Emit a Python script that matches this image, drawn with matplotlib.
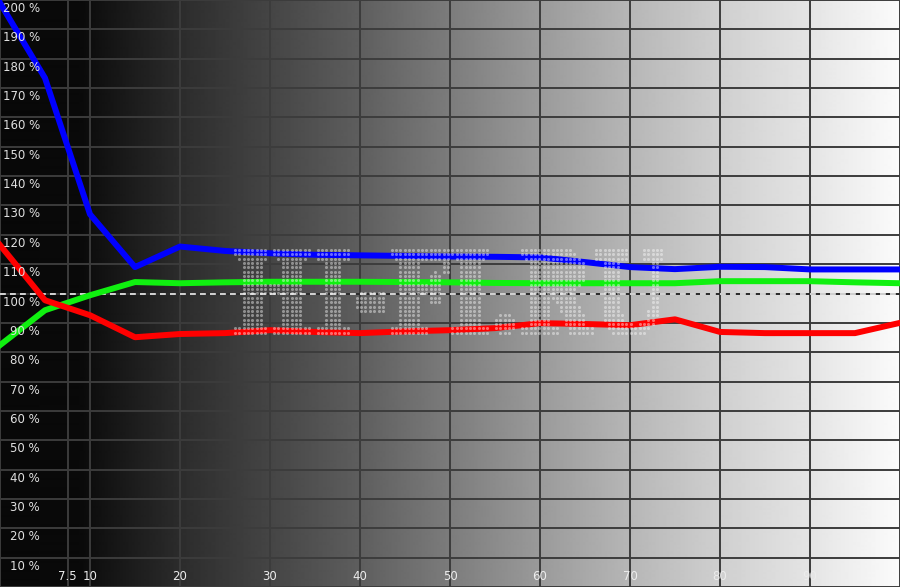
import matplotlib
matplotlib.use("Agg")
import matplotlib.pyplot as plt
import numpy as np
from matplotlib.textpath import TextPath
from matplotlib.font_manager import FontProperties

# -----------------------------------------------------------
# DATA
# -----------------------------------------------------------

stimulus = [0, 5, 10, 15, 20, 25, 30, 35, 40, 45, 50,
            55, 60, 65, 70, 75, 80, 85, 90, 95, 100]

red = [116.5, 97.7, 92.6, 85.1, 86.2, 86.5, 87.5, 86.9, 86.5, 87.1, 87.5,
       88.2, 89.9, 89.6, 89.2, 91.2, 86.9, 86.5, 86.5, 86.5, 90.0]
green = [82.4, 94.3, 99.4, 103.9, 103.5, 103.8, 104.0, 104.0, 104.0, 103.9, 103.8,
         103.6, 103.5, 103.5, 103.5, 103.5, 104.2, 104.2, 104.2, 103.8, 103.5]
blue = [199.0, 173.4, 127.0, 109.0, 116.0, 114.5, 113.7, 113.2, 113.0, 112.8, 112.6,
        112.5, 112.3, 110.7, 109.0, 108.3, 109.1, 109.0, 108.2, 108.2, 108.2]

x_ticks = [7.5, 10, 20, 30, 40, 50, 60, 70, 80, 90]
x_tick_labels = ["7.5", "10", "20", "30", "40", "50", "60", "70", "80", "90"]
y_ticks = [200, 190, 180, 170, 160, 150, 140, 130, 120, 110,
           100, 90, 80, 70, 60, 50, 40, 30, 20, 10]

watermark = "HI-FI.RU"

# background grey level (0-255) along the x axis
bg_pos = [0, 9, 10, 20, 30, 40, 50, 60, 70, 80, 90, 100]
bg_level = [8, 10, 14, 44, 69, 94, 124, 154, 182, 207, 228, 251]

# -----------------------------------------------------------
# FIGURE
# -----------------------------------------------------------

W, H = 900, 587
fig = plt.figure(figsize=(W / 100, H / 100), dpi=100)
ax = fig.add_axes([0, 0, 1, 1])
ax.set_xlim(0, 100)
ax.set_ylim(0, 200)
for s in ax.spines.values():
    s.set_visible(False)
ax.set_xticks([])
ax.set_yticks([])

# gradient background
xs = np.linspace(0, 100, 900)
grad = np.interp(xs, bg_pos, bg_level)[None, :]
ax.imshow(grad, extent=[0, 100, 0, 200], aspect="auto", cmap="gray",
          vmin=0, vmax=255, interpolation="bilinear", zorder=0)

# grid
grid_col = "#3c3c3c"
for v in list(range(0, 201, 10)):
    ax.axhline(v, color=grid_col, lw=1.4, zorder=1)
for v in [0] + x_ticks + [100]:
    ax.axvline(v, color=grid_col, lw=1.4, zorder=1)

# 100 % reference: alternating dark / white dashes
ax.axhline(100, color="#2a2a2a", lw=1.2, zorder=2)
ax.axhline(100, color="#f0f0f0", lw=1.2, dashes=(3.5, 2.5), zorder=2)

# RGB balance curves
ax.plot(stimulus, blue, color="#0000ff", lw=4.3, zorder=3)
ax.plot(stimulus, green, color="#10f010", lw=4.3, zorder=3)
ax.plot(stimulus, red, color="#ff0000", lw=4.3, zorder=3)

# dotted watermark (text outline sampled on a dot grid, slightly fattened)
tp = TextPath((0, 0), watermark, size=100,
              prop=FontProperties(family="DejaVu Serif", weight="bold"))
bb = tp.get_extents()
x0, x1, y0, y1 = 235, 665, 250, 335  # pixel box of the watermark
step = 4.35
px, py = np.meshgrid(np.arange(x0, x1 + 0.1, step), np.arange(y0, y1 + 0.1, step))
px, py = px.ravel(), py.ravel()
inside = np.zeros(px.shape, dtype=bool)
for dx, dy in [(0, 0), (2.2, 0), (-2.2, 0), (0, 2.2), (0, -2.2)]:
    tx = bb.x0 + (px + dx - x0) / (x1 - x0) * bb.width
    ty = bb.y1 - (py + dy - y0) / (y1 - y0) * bb.height
    inside |= tp.contains_points(np.column_stack([tx, ty]))
ax.scatter(px[inside] / 9.0, 200 - py[inside] * 200 / H, s=5.0, color="white",
           alpha=0.42, linewidths=0, zorder=4)

# labels
for v in y_ticks:
    ax.annotate(f"{v} %", xy=(0, v), xytext=(40, -2), textcoords="offset pixels",
                ha="right", va="top", fontsize=8.5, color="#e0e0e0",
                family="DejaVu Sans", zorder=5)
for v, lab in zip(x_ticks, x_tick_labels):
    ax.annotate(lab, xy=(v, 0), xytext=(0, 10), textcoords="offset pixels",
                ha="center", va="center", fontsize=8.5, color="#ececec",
                family="DejaVu Sans", zorder=5)

fig.savefig("out.png", dpi=100)
